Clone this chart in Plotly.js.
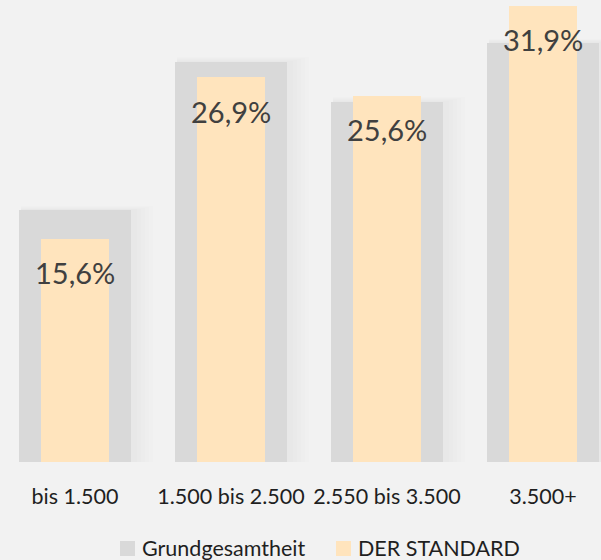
<!DOCTYPE html>
<html><head><meta charset="utf-8">
<script src="https://cdn.plot.ly/plotly-3.0.1.min.js"></script>
<style>html,body{margin:0;padding:0;background:#f2f2f2;}#chart{width:601px;height:560px;}</style>
</head><body><div id="chart"></div>
<script>
var categories = ["bis 1.500", "1.500 bis 2.500", "2.550 bis 3.500", "3.500+"];
var grundgesamtheit = [17.6, 28.0, 25.2, 29.3];
var derStandard = [15.6, 26.9, 25.6, 31.9];
var valueLabels = ["15,6%", "26,9%", "25,6%", "31,9%"];
var seriesNames = ["Grundgesamtheit", "DER STANDARD"];

var xIdx = categories.map(function(_, i){ return i; });
var traces = [];
// soft shadow layers behind grey bars
for (var k = 5; k >= 1; k--) {
  traces.push({
    type: 'bar', x: xIdx,
    y: grundgesamtheit.map(function(v){ return v + k*0.06; }),
    width: categories.map(function(){ return 0.718 + k*0.026; }),
    offset: categories.map(function(){ return -0.359 + 0.01; }),
    marker: {color: 'rgba(0,0,0,0.007)', line: {width: 0}},
    hoverinfo: 'skip', showlegend: false
  });
}
traces.push({
  type: 'bar', name: seriesNames[0], x: xIdx, y: grundgesamtheit,
  width: categories.map(function(){ return 0.718; }),
  marker: {color: '#d9d9d9', line: {width: 0}}, showlegend: false
});
traces.push({
  type: 'bar', name: seriesNames[1], x: xIdx, y: derStandard,
  width: categories.map(function(){ return 0.436; }),
  marker: {color: '#ffe4bd', line: {width: 0}}, showlegend: false
});

var annotations = derStandard.map(function(v, i){
  return {x: i, y: v, xref: 'x', yref: 'y', text: valueLabels[i], showarrow: false,
    yanchor: 'middle', yshift: -34, font: {family: 'Lato, sans-serif', size: 29, color: '#404040'}};
});
// legend
var legY = (462 - 548) / 462;
annotations.push({x: 140/601, y: legY, xref: 'paper', yref: 'paper', xanchor: 'left', yanchor: 'middle',
  text: seriesNames[0], showarrow: false, font: {family: 'Lato, sans-serif', size: 21.5, color: '#1f1f1f'}});
annotations.push({x: 356/601, y: legY, xref: 'paper', yref: 'paper', xanchor: 'left', yanchor: 'middle',
  text: seriesNames[1], showarrow: false, font: {family: 'Lato, sans-serif', size: 21.5, color: '#1f1f1f'}});
var shapes = [
  {type: 'rect', xref: 'paper', yref: 'paper', x0: 120/601, x1: 135/601, y0: (462-556)/462, y1: (462-541)/462,
   fillcolor: '#d9d9d9', line: {width: 0}},
  {type: 'rect', xref: 'paper', yref: 'paper', x0: 336/601, x1: 351/601, y0: (462-556)/462, y1: (462-541)/462,
   fillcolor: '#ffe4bd', line: {width: 0}}
];

var layout = {
  width: 601, height: 560,
  margin: {l: 0, r: 0, t: 0, b: 98},
  paper_bgcolor: '#f2f2f2', plot_bgcolor: '#f2f2f2',
  barmode: 'overlay', bargap: 0,
  showlegend: false,
  xaxis: {range: [-75/156, 526/156], tickvals: xIdx, ticktext: categories,
    showgrid: false, zeroline: false, showline: false, ticks: '',
    tickfont: {family: 'Lato, sans-serif', size: 21.5, color: '#1f1f1f'}, ticklabelstandoff: 19},
  yaxis: {range: [0, 462/14.3], visible: false, showgrid: false, zeroline: false},
  annotations: annotations, shapes: shapes
};
Plotly.newPlot('chart', traces, layout, {displayModeBar: false, staticPlot: true});
</script></body></html>
